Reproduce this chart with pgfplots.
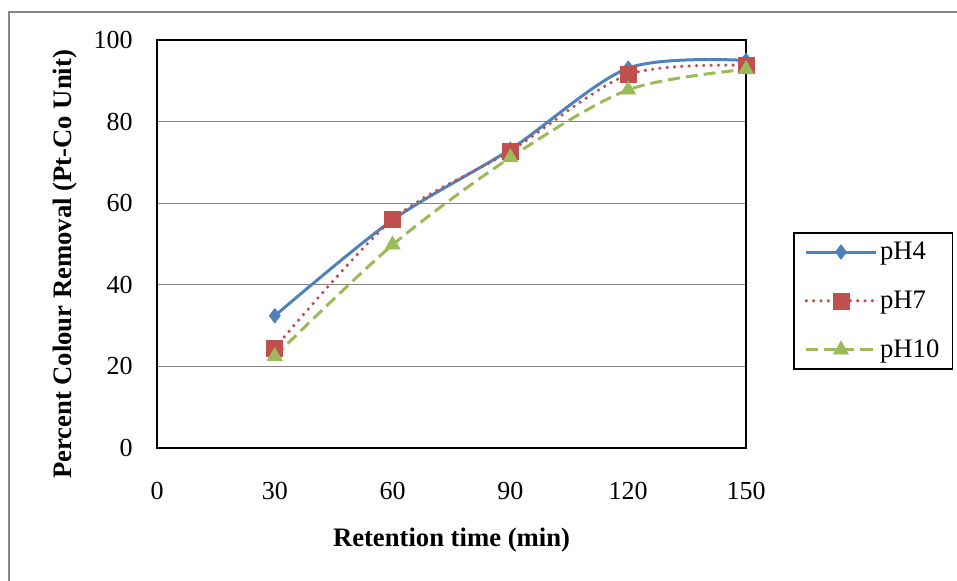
\documentclass[border=0pt]{standalone}
\usepackage{fontspec}
\setmainfont{Liberation Serif}
\usepackage{pgfplots}
\pgfplotsset{compat=1.18}
\definecolor{cblue}{HTML}{4F81BD}
\definecolor{cred}{HTML}{C0504D}
\definecolor{cgreen}{HTML}{9BBB59}
\definecolor{cgrid}{HTML}{868686}
\begin{document}
\begin{tikzpicture}
\path[use as bounding box] (0,0) rectangle (717.75pt,435.75pt);
\draw[cgrid, line width=1.5pt] (6.75pt,0) -- (6.75pt,426.75pt) -- (717.75pt,426.75pt);
\begin{axis}[
  at={(117.75pt,99.75pt)}, anchor=south west,
  scale only axis, width=441.75pt, height=306pt,
  xmin=0, xmax=150, ymin=0, ymax=100,
  xtick={0,30,60,90,120,150}, ytick={0,20,40,60,80,100},
  major tick length=0pt,
  ymajorgrids, grid style={cgrid, line width=0.9pt},
  axis line style={black, line width=1.1pt},
  /pgf/number format/assume math mode=true,
  tick label style={font=\fontsize{19.5}{23}\selectfont},
  xticklabel style={anchor=center, yshift=-32pt},
  yticklabel style={anchor=east, inner sep=0pt, xshift=-18pt},
  xlabel={Retention time (min)},
  ylabel={Percent Colour Removal (Pt-Co Unit)},
  label style={font=\fontsize{20}{24}\selectfont\bfseries},
  xlabel style={at={(rel axis cs:0.5,-0.225)}, anchor=center},
  ylabel style={at={(rel axis cs:-0.156,0.45)}, anchor=center, rotate=0},
  legend style={at={(rel axis cs:1.08,0.529)}, anchor=north west,
    draw=black, line width=1.1pt, font=\fontsize{20}{24}\selectfont,
    row sep=18pt, inner xsep=8pt, inner ysep=5pt,
    nodes={inner xsep=2pt, inner ysep=2pt},
    cells={anchor=west}},
  legend cell align=left,
  legend image code/.code={\draw[mark repeat=2,mark phase=2] plot coordinates {(0pt,0pt) (26pt,0pt) (52pt,0pt)};},
]
\addplot[cblue, line width=2.25pt, smooth, mark=diamond*, mark size=5.5pt, mark options={solid, fill=cblue, line width=0.5pt}]
  coordinates {(30,32.4) (60,55.9) (90,73.2) (120,93.1) (150,95.0)};
\addlegendentry{pH4}
\addplot[cred, line width=2.7pt, smooth, line cap=round, dash pattern=on 0pt off 5.5pt, mark=square*, mark size=6pt, mark options={solid, fill=cred, line width=0.5pt}]
  coordinates {(30,24.5) (60,56.0) (90,72.8) (120,91.5) (150,93.8)};
\addlegendentry{pH7}
\addplot[cgreen, line width=2.25pt, smooth, dash pattern=on 9pt off 4.5pt, mark=triangle*, mark size=6.5pt, mark options={solid, fill=cgreen, line width=0.5pt}]
  coordinates {(30,22.5) (60,49.8) (90,71.2) (120,87.8) (150,92.8)};
\addlegendentry{pH10}
\end{axis}
\end{tikzpicture}
\end{document}
